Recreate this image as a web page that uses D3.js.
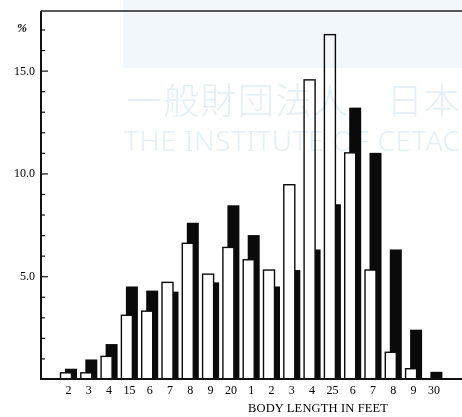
<!DOCTYPE html>
<html>
<head>
<meta charset="utf-8">
<script src="https://cdn.jsdelivr.net/npm/d3@7"></script>
<style>
  body { margin: 0; background: #fff; }
  svg { display: block; }
</style>
</head>
<body>
<div id="chart"></div>
<script>
// body length classes (feet) and their printed tick labels
const lengths = [12, 13, 14, 15, 16, 17, 18, 19, 20, 21, 22, 23, 24, 25, 26, 27, 28, 29, 30]
const tickLabels = ['2', '3', '4', '15', '6', '7', '8', '9', '20', '1', '2', '3', '4', '25', '6', '7', '8', '9', '30']
// percentage frequencies
const whiteValues = [0.3, 0.3, 1.1, 3.1, 3.3, 4.7, 6.6, 5.1, 6.4, 5.8, 5.3, 9.45, 14.55, 16.75, 11.0, 5.3, 1.3, 0.5, 0]
const blackValues = [0.5, 0.95, 1.7, 4.5, 4.3, 4.25, 7.6, 4.7, 8.45, 7.0, 4.5, 5.3, 6.3, 8.5, 13.2, 11.0, 6.3, 2.4, 0.35]
const yTicks = [5, 10, 15]

const width = 462, height = 417
const svg = d3.select('#chart').append('svg')
  .attr('width', width)
  .attr('height', height)

const x = d3.scaleBand()
  .domain(lengths)
  .range([57, 57 + 19 * 20.3])
  .padding(0)

const y = d3.scaleLinear()
  .domain([0, 17.9])
  .range([379, 11])

const serif = 'Liberation Serif, Times New Roman, serif'

// bars: black behind, white outlined in front
const groups = svg.append('g')
  .selectAll('g')
  .data(lengths.map((d, i) => ({len: d, w: whiteValues[i], b: blackValues[i]})))
  .enter().append('g')

groups.append('rect')
  .attr('x', d => x(d.len) + 8)
  .attr('width', 12)
  .attr('y', d => y(d.b))
  .attr('height', d => y(0) - y(d.b))
  .attr('fill', '#0a0a0a')

groups.filter(d => d.w > 0).append('rect')
  .attr('x', d => x(d.len) + 3.5)
  .attr('width', 11)
  .attr('y', d => y(d.w))
  .attr('height', d => y(0) - y(d.w))
  .attr('fill', '#fff')
  .attr('stroke', '#0a0a0a')
  .attr('stroke-width', 1.4)

// left axis with inward ticks every 1%
const axisL = svg.append('g').attr('transform', 'translate(41,0)')
axisL.call(d3.axisRight(y).tickValues(d3.range(1, 18)).tickSize(4).tickFormat(''))
axisL.select('.domain').remove()
axisL.selectAll('line').attr('stroke', '#111').attr('stroke-width', 1.2)
  .attr('x2', d => d % 5 === 0 ? 7 : 4)

svg.append('line')
  .attr('x1', 41).attr('x2', 41)
  .attr('y1', y.range()[1]).attr('y2', y(0) + 1)
  .attr('stroke', '#111').attr('stroke-width', 2)

// frame top and baseline
svg.append('line')
  .attr('x1', 41).attr('x2', width)
  .attr('y1', 11).attr('y2', 11)
  .attr('stroke', '#222').attr('stroke-width', 1.5)
svg.append('line')
  .attr('x1', 41).attr('x2', width)
  .attr('y1', y(0)).attr('y2', y(0))
  .attr('stroke', '#111').attr('stroke-width', 2)

svg.append('g').selectAll('text')
  .data(yTicks)
  .enter().append('text')
  .attr('x', 35)
  .attr('y', d => y(d) + 4)
  .attr('text-anchor', 'end')
  .attr('font-family', serif)
  .attr('font-size', 12)
  .text(d => d.toFixed(1))

svg.append('text')
  .attr('x', 22).attr('y', 32)
  .attr('text-anchor', 'middle')
  .attr('font-family', serif)
  .attr('font-style', 'italic')
  .attr('font-weight', 'bold')
  .attr('font-size', 12)
  .text('%')

svg.append('g').selectAll('text')
  .data(lengths)
  .enter().append('text')
  .attr('x', d => x(d) + 11.5)
  .attr('y', 394)
  .attr('text-anchor', 'middle')
  .attr('font-family', serif)
  .attr('font-size', 12)
  .text((d, i) => tickLabels[i])

svg.append('text')
  .attr('x', 318).attr('y', 412)
  .attr('text-anchor', 'middle')
  .attr('font-family', serif)
  .attr('font-size', 12.5)
  .attr('textLength', 140)
  .text('BODY LENGTH IN FEET')

// faint archive watermark over the scan (only the part inside the frame)
const wm = svg.append('g').style('mix-blend-mode', 'multiply')
wm.append('rect')
  .attr('x', 123).attr('y', 0)
  .attr('width', width - 123).attr('height', 68)
  .attr('fill', '#f1f7fb')
wm.append('text')
  .attr('x', 126).attr('y', 114)
  .attr('font-family', 'Noto Sans CJK JP')
  .attr('font-weight', 300)
  .attr('font-size', 36)
  .attr('textLength', 334)
  .attr('fill', '#e5eff6')
  .text('一般財団法人　日本')
wm.append('text')
  .attr('x', 124).attr('y', 151)
  .attr('font-family', 'Noto Sans, sans-serif')
  .attr('font-weight', 300)
  .attr('font-size', 28)
  .attr('textLength', 336)
  .attr('fill', '#e5eff6')
  .text('THE INSTITUTE OF CETAC')
</script>
</body>
</html>
